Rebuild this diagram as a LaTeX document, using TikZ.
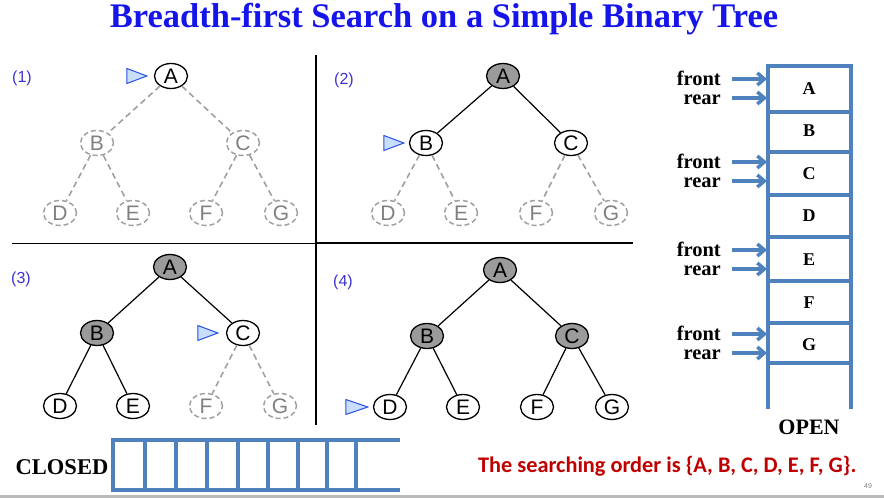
\documentclass[tikz,border=0pt]{standalone}
\usepackage{fontspec}
\setmainfont{Liberation Serif}
\newfontfamily\sansf{Liberation Sans}
\newfontfamily\calib{Carlito}
\usetikzlibrary{shapes.geometric,positioning,arrows.meta,calc}
\definecolor{titleblue}{RGB}{20,20,235}
\definecolor{numblue}{RGB}{60,50,210}
\definecolor{qblue}{RGB}{79,129,189}
\definecolor{markblue}{RGB}{40,80,230}
\definecolor{markfill}{RGB}{200,222,250}
\definecolor{visgray}{RGB}{155,155,155}
\definecolor{dgray}{RGB}{160,160,160}
\definecolor{ordred}{RGB}{192,0,0}
\tikzset{
  tn/.style={ellipse,minimum width=33pt,minimum height=25pt,inner sep=0pt,line width=1.3pt,font=\sansf\fontsize{21}{21}\selectfont},
  seen/.style={tn,draw=black,fill=white},
  done/.style={tn,draw=black,fill=visgray},
  unseen/.style={tn,draw=dgray,line width=1.5pt,dash pattern=on 5pt off 3pt,text=gray,fill=white},
  link/.style={line width=1.2pt,black},
  dlink/.style={line width=1.6pt,dgray,dash pattern=on 6pt off 4pt},
  marker/.style={draw=markblue,fill=markfill,line width=1pt,line join=miter},
  numlab/.style={font=\sansf\fontsize{16}{16}\selectfont,text=numblue},
  qline/.style={line width=3.5pt,qblue,line cap=rect},
  qarrow/.style={line width=3.5pt,qblue,-{Straight Barb[length=7pt,width=12pt]}},
  qlab/.style={font=\bfseries\fontsize{20.5}{18.5}\selectfont,inner sep=0pt,align=right},
  cell/.style={font=\bfseries\fontsize{18}{18}\selectfont,inner sep=0pt}
}
\begin{document}
\begin{tikzpicture}[x=1pt,y=-1pt]
\useasboundingbox (0,0) rectangle (884,498);
\node[font=\bfseries\fontsize{34.5}{34.5}\selectfont,text=titleblue] (title) at (444,19) {Breadth-first Search on a Simple Binary Tree};
%panel lines
\draw[line width=0.8pt] (12,243) -- (316,243);
\draw[line width=2.5pt] (316,243) -- (633,243);
\draw[line width=2.5pt] (316,55) -- (316,425);
%panel (1)
\node[numlab] (n1) at (22,78) {(1)};
\foreach \l/\dx/\dy/\s in {A/0/0/seen,B/-74/67/unseen,C/72/67/unseen,D/-111/137/unseen,E/-38/137/unseen,F/35/137/unseen,G/110/137/unseen}{
\node[\s] (p1\l) at (171+\dx,76+\dy) {\l};
}
\foreach \u/\v/\s in {A/B/dlink,A/C/dlink,B/D/dlink,B/E/dlink,C/F/dlink,C/G/dlink}{
\draw[\s] (p1\u) -- (p1\v);
}
\coordinate[left=7pt of p1A] (m1);
\draw[marker] (m1) -- ++(-20,-7.5) -- ++(0,15) -- cycle;
%panel (2)
\node[numlab] (n2) at (344,80) {(2)};
\foreach \l/\dx/\dy/\s in {A/0/0/done,B/-77/67/seen,C/68/67/seen,D/-115/137/unseen,E/-42/137/unseen,F/33/137/unseen,G/108/137/unseen}{
\node[\s] (p2\l) at (503+\dx,76+\dy) {\l};
}
\foreach \u/\v/\s in {A/B/link,A/C/link,B/D/dlink,B/E/dlink,C/F/dlink,C/G/dlink}{
\draw[\s] (p2\u) -- (p2\v);
}
\coordinate[left=5pt of p2B] (m2);
\draw[marker] (m2) -- ++(-20,-7.5) -- ++(0,15) -- cycle;
%panel (3)
\node[numlab] (n3) at (21,279) {(3)};
\foreach \l/\dx/\dy/\s in {A/0/0/done,B/-73/66/done,C/73/66/seen,D/-110/139/seen,E/-37/139/seen,F/36/139/unseen,G/110/139/unseen}{
\node[\s] (p3\l) at (170+\dx,267+\dy) {\l};
}
\foreach \u/\v/\s in {A/B/link,A/C/link,B/D/link,B/E/link,C/F/dlink,C/G/dlink}{
\draw[\s] (p3\u) -- (p3\v);
}
\coordinate[left=8pt of p3C] (m3);
\draw[marker] (m3) -- ++(-20,-7.5) -- ++(0,15) -- cycle;
%panel (4)
\node[numlab] (n4) at (343,282) {(4)};
\foreach \l/\dx/\dy/\s in {A/0/0/done,B/-73/66/done,C/72/66/done,D/-110/137/seen,E/-37/137/seen,F/37/137/seen,G/112/137/seen}{
\node[\s] (p4\l) at (500+\dx,270+\dy) {\l};
}
\foreach \u/\v/\s in {A/B/link,A/C/link,B/D/link,B/E/link,C/F/link,C/G/link}{
\draw[\s] (p4\u) -- (p4\v);
}
\coordinate[left=5pt of p4D] (m4);
\draw[marker] (m4) -- ++(-22,-7.5) -- ++(0,15) -- cycle;
%OPEN queue
\draw[qline] (768,66) -- (768,407);
\draw[qline] (851,66) -- (851,407);
\foreach \y in {66,112,152,195,237,281,323,363}{
\draw[qline] (768,\y) -- (851,\y);
}
\foreach \l/\y in {A/89,B/131,C/174,D/216,E/260,F/303,G/345}{
\node[cell] (c\l) at (809,\y) {\l};
}
\node[qlab,font=\bfseries\fontsize{22}{22}\selectfont] (open) at (809,427) {OPEN};
\foreach \i/\y in {1/79,2/162,3/250,4/334}{
\node[qlab,anchor=east] (fr\i) at (721,\y+9) {front\\rear};
\coordinate (fe\i) at (767,\y);
\coordinate (ree\i) at (767,\y+19);
\draw[qarrow] ($(fr\i.east |- fe\i)+(11,0)$) -- (fe\i);
\draw[qarrow] ($(fr\i.east |- ree\i)+(11,0)$) -- (ree\i);
}
%CLOSED table
\node[qlab,font=\bfseries\fontsize{22.5}{22.5}\selectfont] (closed) at (62,467) {CLOSED};
\draw[qline] (113,440) -- (398,440);
\draw[qline] (113,490) -- (398,490);
\foreach \x in {113,145,176,207,238,268,298,327,356}{
\draw[qline] (\x,440) -- (\x,490);
}
\node[anchor=west,inner sep=0pt,font=\calib\bfseries\fontsize{22.3}{22.3}\selectfont,text=ordred] (order) at (478,466) {The searching order is \{A, B, C, D, E, F, G\}.};
\node[font=\sansf\fontsize{7}{7}\selectfont,text=gray] (page) at (868,486) {49};
\fill[gray!55] (0,495) rectangle (884,498);
\end{tikzpicture}
\end{document}
